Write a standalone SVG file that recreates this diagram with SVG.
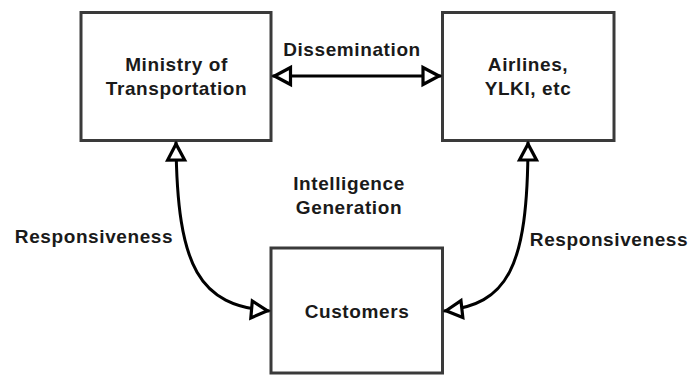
<svg xmlns="http://www.w3.org/2000/svg" width="689" height="376" viewBox="0 0 689 376">
  <style>
    .box { fill: #ffffff; stroke: #3a3a3a; stroke-width: 3; }
    .label { font-family: "Liberation Sans", Arial, sans-serif; font-weight: bold; font-size: 19px; letter-spacing: 0.6px; fill: #1a1a1a; text-anchor: middle; }
    .edge { fill: none; stroke: #000000; stroke-width: 3; }
  </style>
  <defs>
    <!-- open triangular arrowhead, white fill with dark outline; tip at the path end -->
    <marker id="openTri" markerUnits="userSpaceOnUse" markerWidth="28" markerHeight="28" viewBox="-22 -14 28 28" refX="2" refY="0" orient="auto-start-reverse">
      <path d="M0,0 L-16,-8.5 L-16,8.5 Z" fill="#ffffff" stroke="#000000" stroke-width="3.2" stroke-linejoin="miter"/>
    </marker>
  </defs>
  <rect width="689" height="376" fill="#ffffff"/>

  <g id="ministry">
    <rect class="box" x="81" y="12.5" width="190" height="128"/>
    <text class="label" x="176.5" y="71">Ministry of</text>
    <text class="label" x="176.5" y="95">Transportation</text>
  </g>

  <g id="airlines">
    <rect class="box" x="442.5" y="12.5" width="171.5" height="128"/>
    <text class="label" x="528" y="71">Airlines,</text>
    <text class="label" x="528" y="95">YLKI, etc</text>
  </g>

  <g id="customers">
    <rect class="box" x="271" y="248" width="171.5" height="125"/>
    <text class="label" x="357" y="318">Customers</text>
  </g>

  <g id="connectors">
    <!-- dissemination between ministry and airlines -->
    <path class="edge" d="M272.5,76 L441,76" marker-start="url(#openTri)" marker-end="url(#openTri)"/>
    <!-- responsiveness: ministry to customers -->
    <path class="edge" d="M176,142 C177,270 200,305 269.5,311" marker-start="url(#openTri)" marker-end="url(#openTri)"/>
    <!-- responsiveness: airlines to customers -->
    <path class="edge" d="M528,142 C528,270 507,304 444,311" marker-start="url(#openTri)" marker-end="url(#openTri)"/>
  </g>

  <g id="edge-labels">
    <text class="label" x="352" y="56">Dissemination</text>
    <text class="label" x="349" y="190">Intelligence</text>
    <text class="label" x="349" y="213.5">Generation</text>
    <text class="label" x="94" y="243">Responsiveness</text>
    <text class="label" x="609" y="245.5">Responsiveness</text>
  </g>
</svg>
